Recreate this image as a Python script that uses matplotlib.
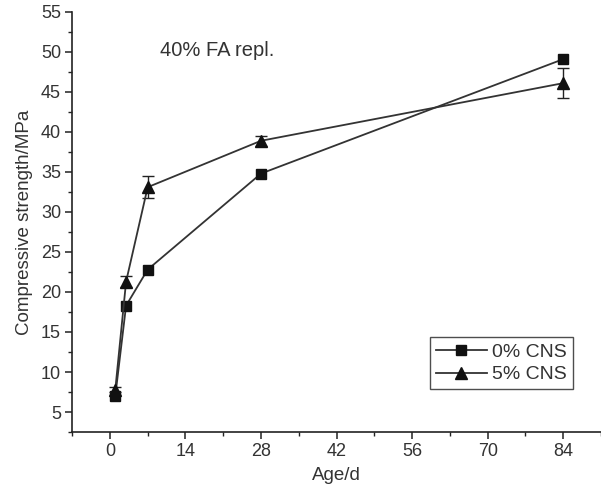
import matplotlib.pyplot as plt
from matplotlib.ticker import MultipleLocator

plt.rcParams['font.family'] = ['Liberation Sans', 'DejaVu Sans']

# 龄期与抗压强度
age = [1, 3, 7, 28, 84]
cns0 = [7.0, 18.3, 22.8, 34.8, 49.1]
cns5 = [7.8, 21.3, 33.1, 38.9, 46.1]
cns5_err = [0.3, 0.7, 1.4, 0.6, 1.9]

fig = plt.figure(figsize=(6.01, 4.98), dpi=100)
ax = fig.add_axes([0.12, 0.1325, 0.88, 0.8435])

ax.plot(age, cns0, color='#333333', linewidth=1.3,
        marker='s', markersize=7.5, markerfacecolor='#111111', markeredgecolor='#111111',
        label='0% CNS')
ax.errorbar(age, cns5, yerr=cns5_err, color='#333333', linewidth=1.3,
            marker='^', markersize=8.5, markerfacecolor='#111111', markeredgecolor='#111111',
            ecolor='#222222', elinewidth=1.0, capsize=4, label='5% CNS')

ax.set_xlim(-7, 91)
ax.set_ylim(2.5, 55)
ax.xaxis.set_minor_locator(MultipleLocator(7))
ax.yaxis.set_minor_locator(MultipleLocator(2.5))
ax.set_xticks([0, 14, 28, 42, 56, 70, 84])
ax.set_yticks([5, 10, 15, 20, 25, 30, 35, 40, 45, 50, 55])

for s in ['top', 'right']:
    ax.spines[s].set_visible(False)
for s in ['left', 'bottom']:
    ax.spines[s].set_linewidth(1.2)
    ax.spines[s].set_color('#222222')

ax.tick_params(which='major', direction='out', length=5, width=1.1, labelsize=13,
               colors='#222222', labelcolor='#333333', pad=3)
ax.tick_params(which='minor', direction='out', length=3, width=1.0, colors='#222222')

ax.set_xlabel('Age/d', fontsize=13.5, color='#333333', labelpad=5)
ax.set_ylabel('Compressive strength/MPa', fontsize=13.5, color='#333333', labelpad=6)

ax.text(9.2, 50.2, '40% FA repl.', fontsize=14.5, color='#333333', va='center')

# 图例只显示线和标记，不带误差棒
handles, labels = ax.get_legend_handles_labels()
handles = [h.lines[0] if hasattr(h, 'lines') else h for h in handles]
leg = ax.legend(handles, labels, loc='lower right', bbox_to_anchor=(0.947, 0.102), fontsize=14,
                frameon=True, fancybox=False, handlelength=2.6, handletextpad=0.3,
                borderpad=0.3, labelspacing=0.25, borderaxespad=0)
leg.get_frame().set_edgecolor('#222222')
leg.get_frame().set_linewidth(1.0)
for t in leg.get_texts():
    t.set_color('#333333')

fig.savefig('out.png', dpi=100)
